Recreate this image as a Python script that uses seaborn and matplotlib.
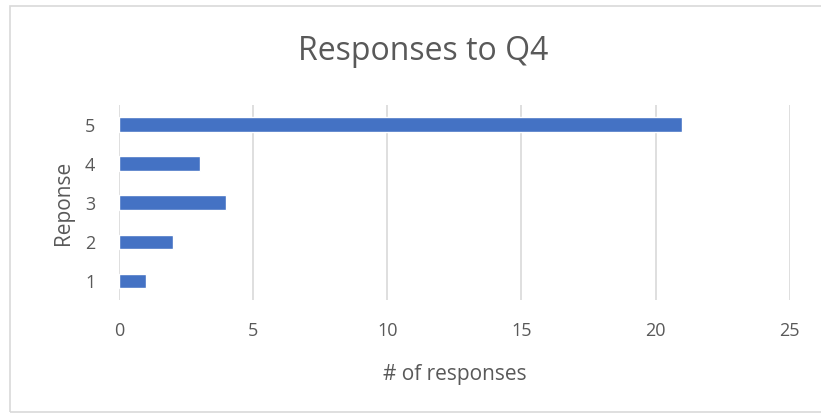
import matplotlib
matplotlib.use("Agg")
import matplotlib.pyplot as plt
import seaborn as sns
import pandas as pd
from matplotlib.patches import Rectangle

responses = ["1", "2", "3", "4", "5"]
counts = [1, 2, 4, 3, 21]
x_ticks = [0, 5, 10, 15, 20, 25]

df = pd.DataFrame({"Response": responses, "Count": counts})

sns.set_theme(style="white")
plt.rcParams["font.family"] = ["Open Sans", "DejaVu Sans"]

fig = plt.figure(figsize=(8.21, 4.15), dpi=100)
ax = fig.add_axes([0.145, 0.277, 0.817, 0.470])

sns.barplot(data=df, x="Count", y="Response", order=responses[::-1],
            color="#4472C4", saturation=1, width=0.36, orient="h", ax=ax)

ax.set_xlim(0, 25)
ax.set_ylim(4.5, -0.5)
ax.set_xticks(x_ticks)
ax.set_xticklabels([str(t) for t in x_ticks])
ax.grid(axis="x", color="#D9D9D9", linewidth=1.2)
ax.set_axisbelow(True)
for s in ax.spines.values():
    s.set_visible(False)
ax.tick_params(axis="both", length=0, labelsize=13, labelcolor="#595959")
ax.tick_params(axis="x", pad=16)
ax.tick_params(axis="y", pad=17)
ax.set_xlabel("# of responses", fontsize=15, color="#595959", labelpad=17)
ax.set_ylabel("Reponse", fontsize=15, color="#595959", labelpad=8)

fig.text(0.515, 0.875, "Responses to Q4", ha="center", va="center",
         fontsize=23, color="#595959")

fig.patches.append(Rectangle((10/821, 1-412/415), 812/821, 406/415,
                             transform=fig.transFigure, fill=False,
                             edgecolor="#D9D9D9", linewidth=1.2))

fig.savefig("out.png", dpi=100)
